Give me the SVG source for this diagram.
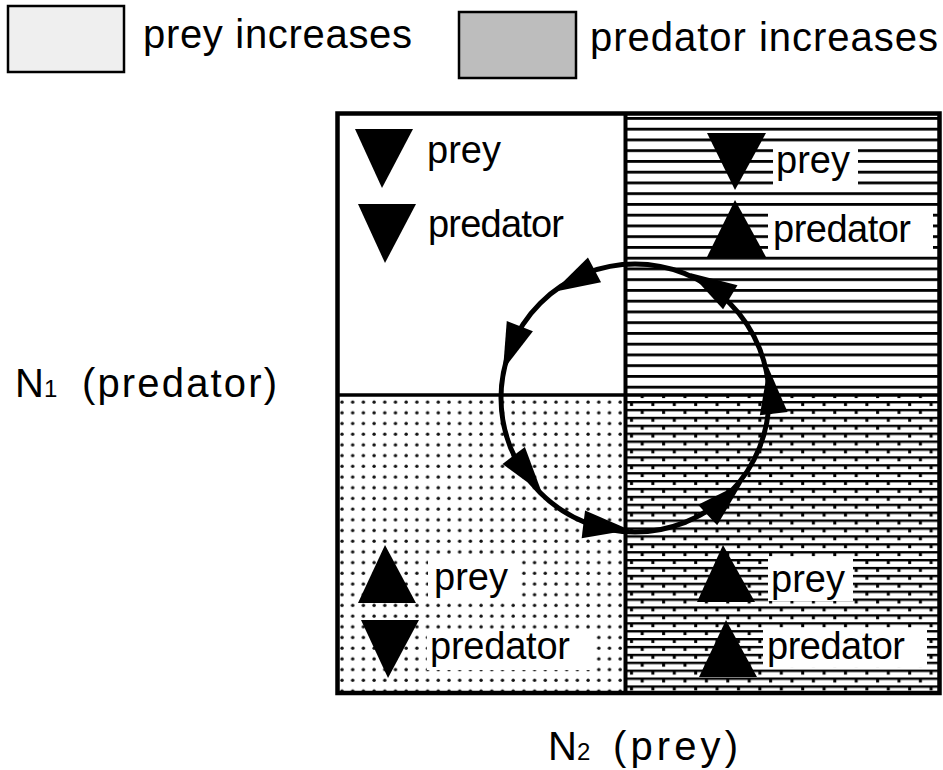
<svg xmlns="http://www.w3.org/2000/svg" width="943" height="770" viewBox="0 0 943 770">
<style>
text{font-family:"Liberation Sans",Arial,sans-serif;fill:#000}
.lbl{font-size:38px}
.big{font-size:40px}
.tri{fill:#000}
.box{fill:#fff}
.ah{fill:#000}
</style>
<defs>
<pattern id="dots" x="337" y="397" width="10.7" height="10.7" patternUnits="userSpaceOnUse">
<rect width="10.7" height="10.7" fill="#fff"/>
<circle cx="5" cy="5" r="1.7" fill="#111"/>
</pattern>
<pattern id="hlines" x="626" y="117" width="20" height="10.75" patternUnits="userSpaceOnUse">
<rect width="20" height="10.75" fill="#fff"/>
<rect y="0" width="20" height="2.8" fill="#000"/>
</pattern>
<pattern id="brick" x="626" y="401" width="21.4" height="15.8" patternUnits="userSpaceOnUse">
<rect width="21.4" height="15.8" fill="#fff"/>
<rect y="0" width="21.4" height="2.4" fill="#000"/>
<rect y="7.9" width="21.4" height="2.4" fill="#000"/>
<rect x="4" y="1.5" width="3" height="3.5" fill="#000"/>
<rect x="14.7" y="9.4" width="3" height="3.5" fill="#000"/>
</pattern>
<path id="arrowhead" d="M0,0 L-47,-14 L-47,14 Z"/>
</defs>
<rect width="943" height="770" fill="#fff"/>

<g id="legend-prey">
<rect x="8" y="6" width="116" height="66" fill="#efefef" stroke="#000" stroke-width="2.5"/>
<text x="143" y="48" class="big" textLength="269">prey increases</text>
</g>
<g id="legend-predator">
<rect x="459" y="12" width="117" height="66" fill="#bdbdbd" stroke="#000" stroke-width="2.5"/>
<text x="590" y="51" class="big" textLength="348">predator increases</text>
</g>

<g id="quadrant-tl">
<rect x="337.5" y="113.5" width="288" height="281.5" fill="#fff"/>
<polygon class="tri" points="355,129 413,129 382,188"/>
<polygon class="tri" points="358,204 416,204 385,263"/>
<text x="427" y="163" class="lbl">prey</text>
<text x="428" y="237" class="lbl" textLength="136">predator</text>
</g>

<g id="quadrant-tr">
<rect x="625.5" y="113.5" width="314" height="281.5" fill="url(#hlines)"/>
<polygon class="tri" points="707,133 766,133 735,190"/>
<polygon class="tri" points="735,200 707,257 766,257"/>
<rect class="box" x="773" y="142" width="85" height="43"/>
<text x="776" y="173" class="lbl">prey</text>
<rect class="box" x="768" y="213" width="165" height="36"/>
<text x="773" y="242" class="lbl" textLength="138">predator</text>
</g>

<g id="quadrant-bl">
<rect x="337.5" y="395" width="288" height="298" fill="url(#dots)"/>
<polygon class="tri" points="385,545 358,603 416,603"/>
<polygon class="tri" points="361,620 419,620 388,678"/>
<rect class="box" x="428" y="557" width="87" height="46"/>
<text x="434" y="590" class="lbl">prey</text>
<rect class="box" x="427" y="630" width="163" height="40"/>
<text x="430" y="659" class="lbl" textLength="140">predator</text>
</g>

<g id="quadrant-br">
<rect x="625.5" y="395" width="314" height="298" fill="url(#brick)"/>
<polygon class="tri" points="723,545 697,602 755,602"/>
<polygon class="tri" points="726,620 699,677 757,677"/>
<rect class="box" x="768" y="558" width="85" height="43"/>
<text x="771" y="592" class="lbl">prey</text>
<rect class="box" x="763" y="630" width="164" height="37"/>
<text x="767" y="659" class="lbl" textLength="138">predator</text>
</g>

<g id="frame" fill="none" stroke="#000">
<rect x="337.5" y="113.5" width="602" height="579.5" stroke-width="4.5"/>
<line x1="625.5" y1="113.5" x2="625.5" y2="693" stroke-width="4"/>
<line x1="337.5" y1="395" x2="939.5" y2="395" stroke-width="3.5"/>
</g>

<g id="connectors">
<circle cx="635" cy="398" r="134" fill="none" stroke="#000" stroke-width="5"/>
<use href="#arrowhead" class="ah" transform="translate(553,292) rotate(152)"/>
<use href="#arrowhead" class="ah" transform="translate(503,370) rotate(111)"/>
<use href="#arrowhead" class="ah" transform="translate(542,493) rotate(53)"/>
<use href="#arrowhead" class="ah" transform="translate(630,530) rotate(7)"/>
<use href="#arrowhead" class="ah" transform="translate(742,483) rotate(-43)"/>
<use href="#arrowhead" class="ah" transform="translate(768,367) rotate(-97)"/>
<use href="#arrowhead" class="ah" transform="translate(690,273) rotate(-149)"/>
</g>

<g id="axis-labels">
<text class="big" y="397"><tspan x="15">N</tspan><tspan font-size="24">1 </tspan><tspan x="82" textLength="195">(predator)</tspan></text>
<text class="big" y="760"><tspan x="548">N</tspan><tspan font-size="24">2 </tspan><tspan x="613" textLength="125">(prey)</tspan></text>
</g>
</svg>
